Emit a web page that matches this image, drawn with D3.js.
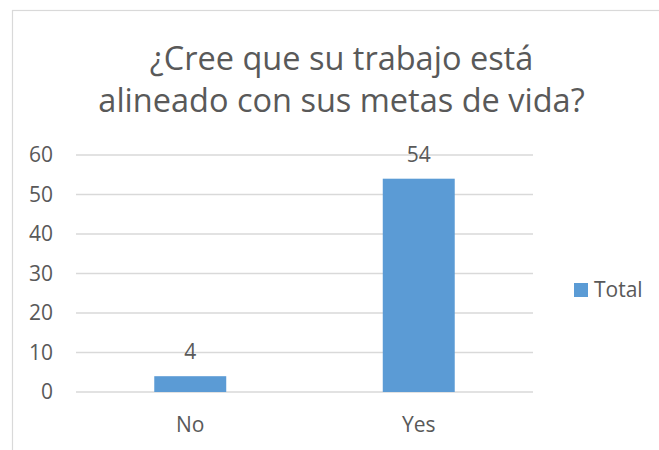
<!DOCTYPE html>
<html>
<head>
<meta charset="utf-8">
<script src="https://cdn.jsdelivr.net/npm/d3@7"></script>
<style>
  html, body { margin: 0; padding: 0; background: #fff; }
  svg { display: block; }
  text { font-family: "Open Sans", sans-serif; fill: #595959; }
</style>
</head>
<body>
<svg id="chart" width="659" height="450"></svg>
<script>
const titleLines = ["¿Cree que su trabajo está", "alineado con sus metas de vida?"];
const categories = ["No", "Yes"];
const values = [4, 54];
const seriesName = "Total";
const yTicks = [0, 10, 20, 30, 40, 50, 60];

const svg = d3.select("#chart");
const barColor = "#5B9BD5";
const gridColor = "#d9d9d9";

// chart frame
svg.append("rect")
  .attr("x", 12.5).attr("y", 10.5)
  .attr("width", 700).attr("height", 500)
  .attr("fill", "#fff").attr("stroke", "#d9d9d9").attr("stroke-width", 1.2);

// title
const title = svg.append("text")
  .attr("text-anchor", "middle")
  .attr("font-size", 32.5);
title.selectAll("tspan").data(titleLines).join("tspan")
  .attr("x", 341.5)
  .attr("y", (d, i) => 70 + i * 42)
  .text(d => d);

const plot = { left: 76, right: 533, top: 155, bottom: 392 };

const y = d3.scaleLinear().domain([0, 60]).range([plot.bottom, plot.top]);
const x = d3.scaleBand().domain(categories)
  .range([plot.left, plot.right])
  .paddingInner(0.685).paddingOuter(0.3425);

// gridlines
svg.append("g")
  .selectAll("line").data(yTicks).join("line")
  .attr("x1", plot.left).attr("x2", plot.right)
  .attr("y1", d => y(d)).attr("y2", d => y(d))
  .attr("stroke", gridColor).attr("stroke-width", 1.3);

// y axis labels
const yAxis = d3.axisLeft(y).tickValues(yTicks).tickSize(0).tickPadding(0);
const yg = svg.append("g").attr("transform", `translate(${53},0)`).call(yAxis);
yg.select(".domain").remove();
yg.selectAll("text").attr("font-size", 21).attr("font-family", "Open Sans, sans-serif")
  .attr("fill", "#595959");

// bars
svg.append("g").selectAll("rect").data(values).join("rect")
  .attr("x", (d, i) => x(categories[i]))
  .attr("width", x.bandwidth())
  .attr("y", d => y(d))
  .attr("height", d => y(0) - y(d))
  .attr("fill", barColor);

// data labels
svg.append("g").selectAll("text").data(values).join("text")
  .attr("x", (d, i) => x(categories[i]) + x.bandwidth() / 2)
  .attr("y", d => y(d) - 17)
  .attr("text-anchor", "middle")
  .attr("font-size", 21)
  .text(d => d);

// x axis labels
const xAxis = d3.axisBottom(x).tickSize(0).tickPadding(0);
const xg = svg.append("g").attr("transform", `translate(0,${plot.bottom})`).call(xAxis);
xg.select(".domain").remove();
xg.selectAll("text").attr("font-size", 21).attr("font-family", "Open Sans, sans-serif")
  .attr("fill", "#595959").attr("dy", null).attr("y", 40);

// legend
const lg = svg.append("g").attr("transform", "translate(574,283)");
lg.append("rect").attr("width", 14).attr("height", 14).attr("fill", barColor);
lg.append("text").attr("x", 20).attr("y", 14).attr("font-size", 21).text(seriesName);
</script>
</body>
</html>
